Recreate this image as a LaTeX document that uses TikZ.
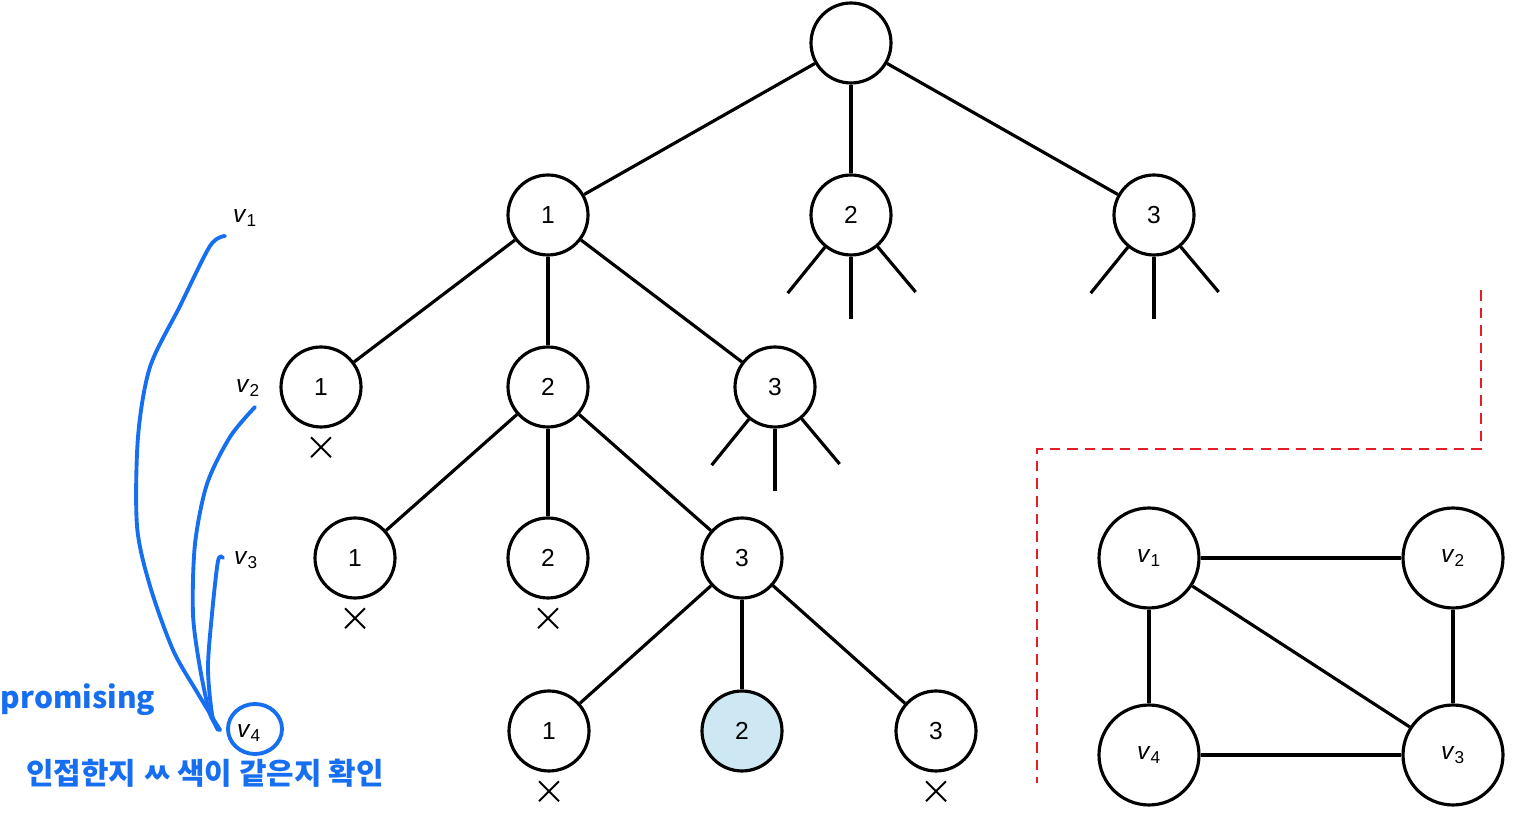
\documentclass[tikz,border=0pt]{standalone}
\usepackage{fontspec}
\setmainfont{Liberation Sans}
\newfontfamily\hand{Noto Sans CJK KR}
\usetikzlibrary{positioning,shapes.misc}
\definecolor{penblue}{RGB}{22,110,240}
\definecolor{markred}{RGB}{228,30,40}
\definecolor{pickblue}{RGB}{205,232,243}
\newcommand{\vx}[1]{\textit{v}\textsubscript{#1}}

\begin{document}
\begin{tikzpicture}[x=0.02cm, y=0.02cm, line width=1.8pt,
  every node/.style={font=\fontsize{14}{16}\selectfont},
  state/.style={draw,circle,minimum size=1.6cm,inner sep=0pt},
  vert/.style={draw,circle,minimum size=2cm,inner sep=0pt},
  cut/.style={draw,cross out,minimum size=0.36cm,inner sep=0pt,line width=1.1pt,below=5pt of #1},
  pen/.style={penblue,line width=2.2pt,line cap=round},
  note/.style={penblue,font=\hand\bfseries\fontsize{17}{19}\selectfont}]
\useasboundingbox (0,0) rectangle (1522,828);
\node[state] (root) at (851,785) {};
\node[state] (a1) at (548,613) {1};
\node[state] (a2) at (851,613) {2};
\node[state] (a3) at (1154,613) {3};
\node[state] (b1) at (321,441) {1};
\node[state] (b2) at (548,441) {2};
\node[state] (b3) at (775,441) {3};
\node[state] (c1) at (355,270) {1};
\node[state] (c2) at (548,270) {2};
\node[state] (c3) at (742,270) {3};
\node[state] (d1) at (549,97) {1};
\node[state,fill=pickblue] (d2) at (742,97) {2};
\node[state] (d3) at (936,97) {3};
\draw (root)--(a1);
\draw (root)--(a2);
\draw (root)--(a3);
\draw (a1)--(b1);
\draw (a1)--(b2);
\draw (a1)--(b3);
\draw (b2)--(c1);
\draw (b2)--(c2);
\draw (b2)--(c3);
\draw (c3)--(d1);
\draw (c3)--(d2);
\draw (c3)--(d3);
\foreach \n in {a2,a3,b3}
  \foreach \a/\l in {-129/59,-90/62,-50/59}
    \draw (\n.\a) -- ++(\a:\l);
\node[cut=b1] (x1) {};
\node[cut=c1] (x2) {};
\node[cut=c2] (x3) {};
\node[cut=d1] (x4) {};
\node[cut=d3] (x5) {};
\node (l1) at (245,610) {\vx{1}};
\node (l2) at (248,440) {\vx{2}};
\node (l3) at (246,268) {\vx{3}};
\node (l4) at (249,95) {\vx{4}};
\node[vert] (g1) at (1149,270) {\vx{1}};
\node[vert] (g2) at (1453,270) {\vx{2}};
\node[vert] (g3) at (1453,73) {\vx{3}};
\node[vert] (g4) at (1149,73) {\vx{4}};
\draw (g1)--(g2);
\draw (g1)--(g4);
\draw (g1)--(g3);
\draw (g2)--(g3);
\draw (g4)--(g3);
\draw[markred,dashed,line width=1pt,dash pattern=on 6pt off 4pt] (1481,538) -- (1481,379) -- (1037,379) -- (1037,45);
\draw[pen] plot[smooth] coordinates {(225,592) (210,582) (180,522) (150,461) (138,391) (137,302) (150,242) (173,178) (197,136) (220,98)};
\draw[pen] plot[smooth] coordinates {(255,421) (230,391) (207,344) (195,284) (193,214) (200,160) (210,114) (220,98)};
\draw[pen] plot[smooth] coordinates {(223,270) (218,267) (212,214) (208,160) (212,114) (218,98)};
\draw[pen] (255,99) ellipse [x radius=27, y radius=25];
\node[note] (pr) at (78,128) {promising};
\node[note] (chk) at (205,55) {인접한지 ㅆ 색이 같은지 확인};
\end{tikzpicture}
\end{document}
